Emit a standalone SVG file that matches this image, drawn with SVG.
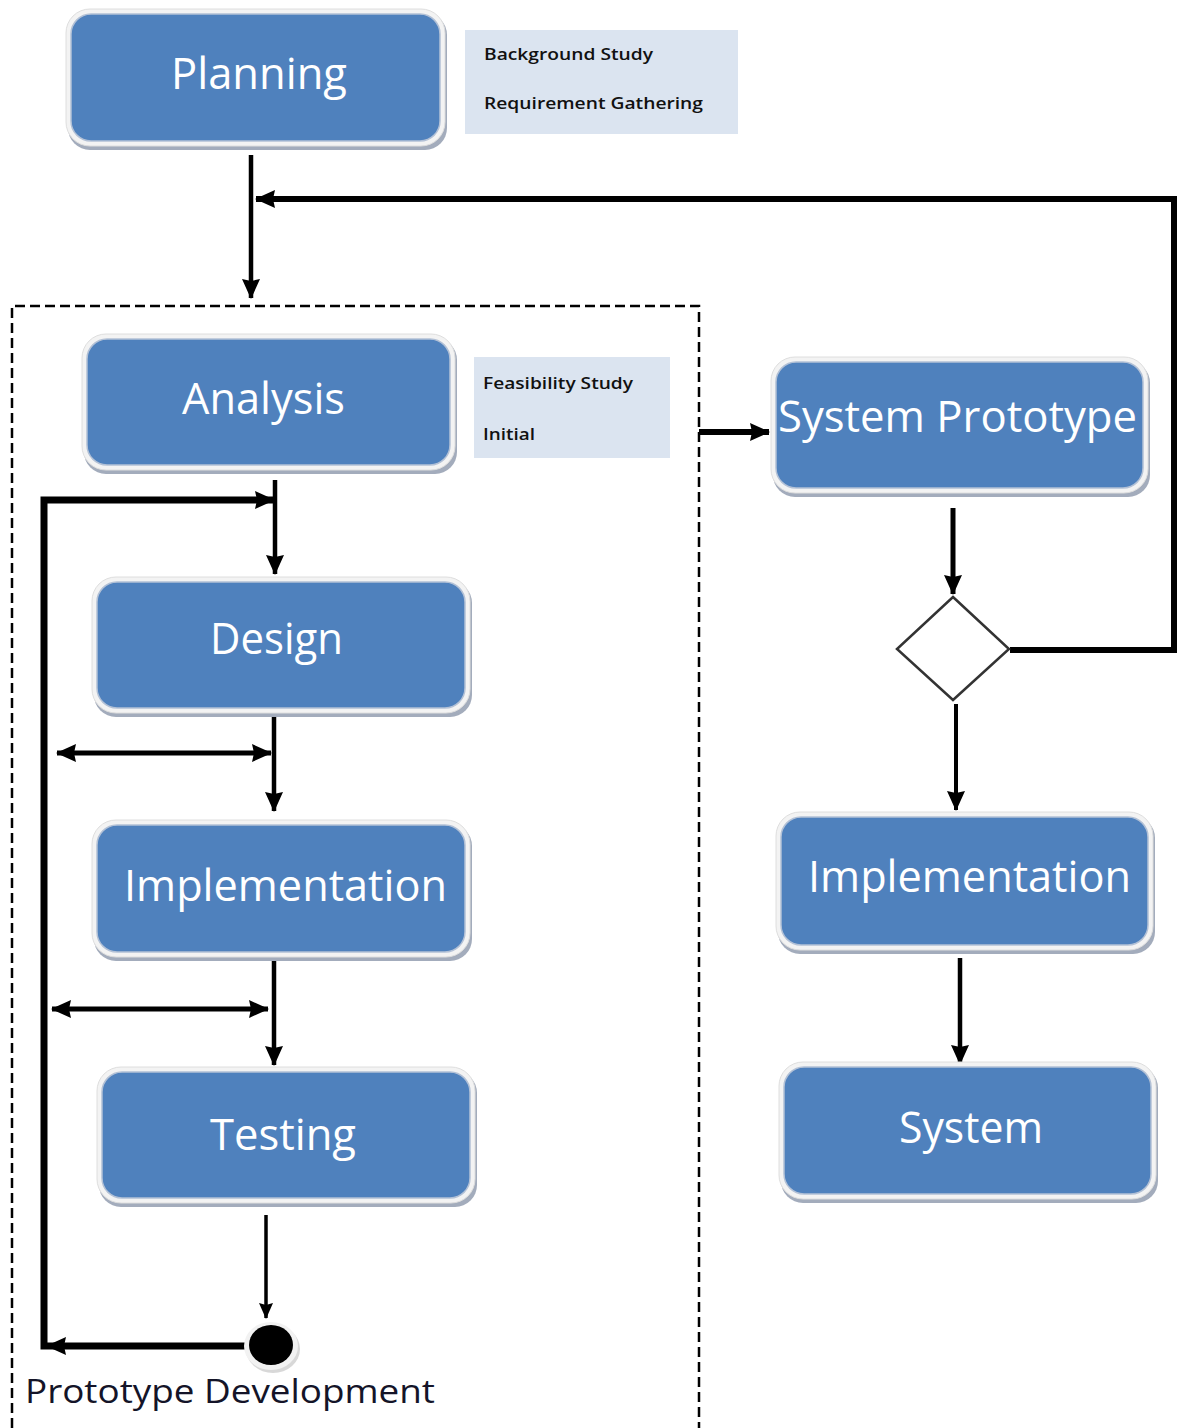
<svg xmlns="http://www.w3.org/2000/svg" width="1182" height="1428" viewBox="0 0 1182 1428">
  <style>
    .shade { fill: #a3acbc; }
    .halo { fill: #f3f3f3; stroke: #dedede; stroke-width: 1; }
    .box { fill: #4f81bd; stroke: #b3c1d6; stroke-width: 1.5; }
    .lbl { font-family: "Open Sans", "Liberation Sans", sans-serif; font-size: 43px; font-weight: 500; fill: #ffffff; }
    .note { fill: #dbe4f0; }
    .ntxt { font-family: "Open Sans", "Liberation Sans", sans-serif; font-size: 17px; font-weight: 600; fill: #111111; }
    .wire { fill: none; stroke: #000000; }
  </style>
  <defs>
    <marker id="ah" markerUnits="userSpaceOnUse" markerWidth="20" markerHeight="20" viewBox="0 0 20 20" refX="19" refY="10" orient="auto-start-reverse">
      <path d="M0,1 L20,10 L0,19 L2,10 Z" fill="#000"/>
    </marker>
    <marker id="ahs" markerUnits="userSpaceOnUse" markerWidth="16" markerHeight="16" viewBox="0 0 16 16" refX="15" refY="8" orient="auto-start-reverse">
      <path d="M0,1 L16,8 L0,15 L2,8 Z" fill="#000"/>
    </marker>
  </defs>

  <!-- dashed prototype-development container -->
  <path d="M12,1428 V306 H699 V1428" fill="none" stroke="#000" stroke-width="2.5" stroke-dasharray="10,5"/>

  <!-- connectors -->
  <g id="connectors" class="wire">
    <path d="M251,155 V298" stroke-width="4.5" marker-end="url(#ah)"/>
    <path d="M1010,650 H1174 V199 H256" stroke-width="6" marker-end="url(#ah)"/>
    <path d="M699,432 H769" stroke-width="6" marker-end="url(#ah)"/>
    <path d="M275,480 V574" stroke-width="4.5" marker-end="url(#ah)"/>
    <path d="M246,1346 H44 V500 H274" stroke-width="7" marker-end="url(#ah)"/>
    <path d="M60,1346 H47" stroke-width="5" marker-end="url(#ah)"/>
    <path d="M274,716 V811" stroke-width="4.5" marker-end="url(#ah)"/>
    <path d="M57,753 H271" stroke-width="5" marker-start="url(#ah)" marker-end="url(#ah)"/>
    <path d="M274,960 V1065" stroke-width="4.5" marker-end="url(#ah)"/>
    <path d="M52,1009 H268" stroke-width="5" marker-start="url(#ah)" marker-end="url(#ah)"/>
    <path d="M266,1215 V1318" stroke-width="3.5" marker-end="url(#ahs)"/>
    <path d="M953,508 V594" stroke-width="5" marker-end="url(#ah)"/>
    <path d="M956,704 V810" stroke-width="4" marker-end="url(#ah)"/>
    <path d="M960,958 V1064" stroke-width="4.5" marker-end="url(#ah)"/>
  </g>

  <!-- waterfall stages -->
  <g id="planning">
    <rect class="shade" x="68" y="13" width="379" height="137" rx="22"/>
    <rect class="halo" x="66" y="9" width="379" height="137" rx="24"/>
    <rect class="box" x="71" y="14" width="369" height="127" rx="20"/>
    <text class="lbl" x="171" y="89" textLength="176" lengthAdjust="spacingAndGlyphs">Planning</text>
  </g>
  <g id="planning-notes">
    <rect class="note" x="465" y="30" width="273" height="104"/>
    <text class="ntxt" x="484" y="60" textLength="169" lengthAdjust="spacingAndGlyphs">Background Study</text>
    <text class="ntxt" x="484" y="109" textLength="219" lengthAdjust="spacingAndGlyphs">Requirement Gathering</text>
  </g>

  <g id="analysis">
    <rect class="shade" x="84" y="338" width="373" height="136" rx="22"/>
    <rect class="halo" x="82" y="334" width="373" height="136" rx="24"/>
    <rect class="box" x="87" y="339" width="363" height="126" rx="20"/>
    <text class="lbl" x="182" y="414" textLength="163" lengthAdjust="spacingAndGlyphs">Analysis</text>
  </g>
  <g id="analysis-notes">
    <rect class="note" x="474" y="357" width="196" height="101"/>
    <text class="ntxt" x="483" y="389" textLength="150" lengthAdjust="spacingAndGlyphs">Feasibility Study</text>
    <text class="ntxt" x="483" y="440" textLength="52" lengthAdjust="spacingAndGlyphs">Initial</text>
  </g>

  <g id="design">
    <rect class="shade" x="94" y="581" width="378" height="136" rx="22"/>
    <rect class="halo" x="92" y="577" width="378" height="136" rx="24"/>
    <rect class="box" x="97" y="582" width="368" height="126" rx="20"/>
    <text class="lbl" x="210" y="654" textLength="133" lengthAdjust="spacingAndGlyphs">Design</text>
  </g>

  <g id="implementation-proto">
    <rect class="shade" x="94" y="824" width="378" height="137" rx="22"/>
    <rect class="halo" x="92" y="820" width="378" height="137" rx="24"/>
    <rect class="box" x="97" y="825" width="368" height="127" rx="20"/>
    <text class="lbl" x="124" y="901" textLength="323" lengthAdjust="spacingAndGlyphs">Implementation</text>
  </g>

  <g id="testing">
    <rect class="shade" x="99" y="1071" width="378" height="136" rx="22"/>
    <rect class="halo" x="97" y="1067" width="378" height="136" rx="24"/>
    <rect class="box" x="102" y="1072" width="368" height="126" rx="20"/>
    <text class="lbl" x="210" y="1150" textLength="146" lengthAdjust="spacingAndGlyphs">Testing</text>
  </g>

  <!-- end of prototype cycle -->
  <g id="final-node">
    <ellipse cx="273" cy="1349" rx="27" ry="24" fill="#d8d8d8"/>
    <ellipse cx="271" cy="1346" rx="27" ry="24" fill="#f2f2f2"/>
    <ellipse cx="271" cy="1345" rx="22" ry="20" fill="#000"/>
  </g>
  <text id="container-label" x="25" y="1403" font-family="'Open Sans', 'Liberation Sans', sans-serif" font-size="32" fill="#141428" textLength="410" lengthAdjust="spacingAndGlyphs">Prototype Development</text>

  <!-- delivery path -->
  <g id="system-prototype">
    <rect class="shade" x="773" y="361" width="377" height="136" rx="22"/>
    <rect class="halo" x="771" y="357" width="377" height="136" rx="24"/>
    <rect class="box" x="776" y="362" width="367" height="126" rx="20"/>
    <text class="lbl" x="778" y="432" textLength="359" lengthAdjust="spacingAndGlyphs">System Prototype</text>
  </g>

  <g id="decision">
    <polygon points="953,597 1009,649 953,700 897,649" fill="#fff" stroke="#333" stroke-width="2.5"/>
  </g>

  <g id="implementation">
    <rect class="shade" x="778" y="816" width="377" height="138" rx="22"/>
    <rect class="halo" x="776" y="812" width="377" height="138" rx="24"/>
    <rect class="box" x="781" y="817" width="367" height="128" rx="20"/>
    <text class="lbl" x="808" y="892" textLength="323" lengthAdjust="spacingAndGlyphs">Implementation</text>
  </g>

  <g id="system">
    <rect class="shade" x="781" y="1066" width="377" height="137" rx="22"/>
    <rect class="halo" x="779" y="1062" width="377" height="137" rx="24"/>
    <rect class="box" x="784" y="1067" width="367" height="127" rx="20"/>
    <text class="lbl" x="899" y="1143" textLength="144" lengthAdjust="spacingAndGlyphs">System</text>
  </g>
</svg>
